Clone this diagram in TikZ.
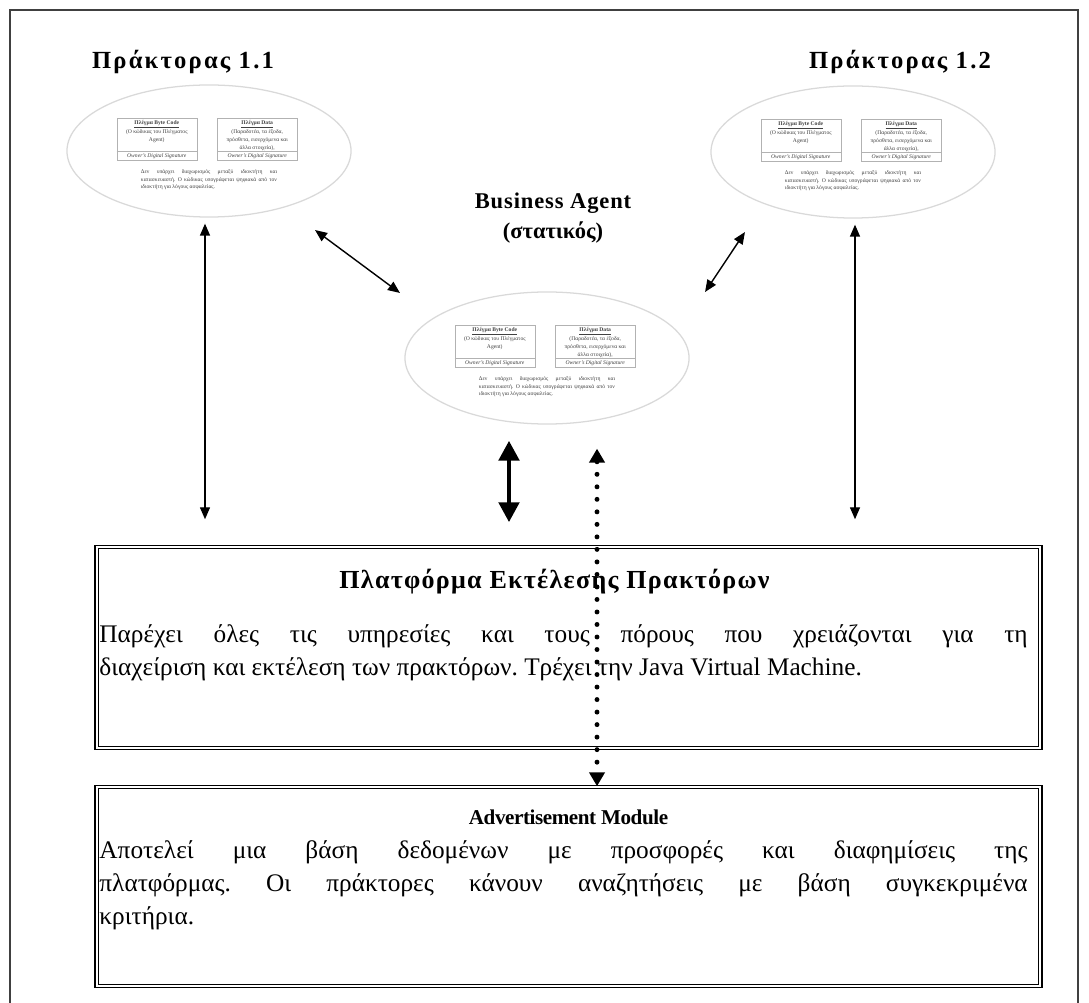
\documentclass[tikz,border=0pt]{standalone}
\usepackage{fontspec}
\setmainfont{Liberation Serif}
\frenchspacing
\usetikzlibrary{positioning, arrows.meta, shapes.geometric}
\tikzset{
	agentoval/.style={ellipse, draw=gray!30, line width=0.9pt, minimum width=7.1cm, minimum height=3.3cm}
}
\tikzset{
	minibox/.style={draw=gray!60, line width=0.3pt, minimum width=2cm, minimum height=1.05cm, inner sep=0pt}
}
\tikzset{
	minitext/.style={font=\fontsize{4}{5.4}\selectfont, text=black!75, align=center, inner sep=0.5pt}
}
\tikzset{
	headtext/.style={font=\fontsize{16}{21}\selectfont\bfseries, align=center}
}
\tikzset{
	dblbox/.style={draw, double, double distance=1.4pt, line width=1pt, minimum width=23.575cm, inner sep=0pt}
}
\tikzset{
	boxtitle/.style={font=\fontsize{18.5}{20}\selectfont\bfseries, inner sep=0pt}
}
\tikzset{
	boxtext/.style={font=\fontsize{18}{23.5}\selectfont, text width=23.2cm, align=justify, inner sep=0pt}
}
\tikzset{
	twoway/.style={{Triangle[length=0.3cm,width=0.25cm]}-{Triangle[length=0.3cm,width=0.25cm]}, line width=1pt}
}
\tikzset{
	bigway/.style={{Triangle[length=0.5cm,width=0.5cm]}-{Triangle[length=0.5cm,width=0.5cm]}, line width=3.5pt}
}
\tikzset{
	dotway/.style={{Triangle[length=0.35cm,width=0.38cm]}-{Triangle[length=0.35cm,width=0.38cm]}, line width=3.5pt, line cap=round, dash pattern=on 0pt off 8.9pt}
}
\newcommand{\agentinside}[1]{%
  \node[minibox, anchor=north east] (#1-code) at ([xshift=-0.3cm, yshift=0.825cm]#1.center) {};
  \node[minibox, anchor=north west] (#1-data) at ([xshift=0.2cm, yshift=0.825cm]#1.center) {};
  \draw[gray!60, line width=0.3pt] ([yshift=0.225cm]#1-code.south west) -- ([yshift=0.225cm]#1-code.south east);
  \draw[gray!60, line width=0.3pt] ([yshift=0.225cm]#1-data.south west) -- ([yshift=0.225cm]#1-data.south east);
  \node[minitext, below=1pt of #1-code.north] (#1-codetxt) {\underline{\textbf{Πλέγμα Byte Code}}\\(Ο κώδικας του Πλέγματος\\Agent)};
  \node[minitext, below=1pt of #1-data.north] (#1-datatxt) {\underline{\textbf{Πλέγμα Data}}\\(Παραδοτέα, τα έξοδα,\\πρόσθετα, εισερχόμενα και\\άλλα στοιχεία),};
  \node[minitext, above=0.5pt of #1-code.south] (#1-codesig) {\itshape Owner's Digital Signature};
  \node[minitext, above=0.5pt of #1-data.south] (#1-datasig) {\itshape Owner's Digital Signature};
  \node[minitext, text width=3.4cm, align=justify] (#1-note) at ([yshift=-0.72cm]#1.center) {Δεν υπάρχει διαχωρισμός μεταξύ ιδιοκτήτη και κατασκευαστή. Ο κώδικας υπογράφεται ψηφιακά από τον ιδιοκτήτη για λόγους ασφαλείας.};
}

\begin{document}
\begin{tikzpicture}[x=0.025cm, y=-0.025cm]
  \useasboundingbox (0,0) rectangle (1089,1003);
  \draw[line width=1.5pt, black!75] (10,1003) -- (10,10) -- (1078,10) -- (1078,1003);

  % agents
  \node[headtext, font=\fontsize{17.5}{21}\selectfont\bfseries] (titleL) at (183,62) {\addfontfeature{LetterSpace=9}Πράκτορας 1.1};
  \node[headtext, font=\fontsize{17.5}{21}\selectfont\bfseries] (titleR) at (900,62) {\addfontfeature{LetterSpace=9}Πράκτορας 1.2};
  \node[headtext] (titleC) at (553,218) {\addfontfeature{LetterSpace=4}Business Agent\\(στατικός)};
  \node[agentoval] (agL) at (209,151) {};
  \node[agentoval] (agR) at (853,152) {};
  \node[agentoval] (agC) at (547,358) {};
  \agentinside{agL}
  \agentinside{agR}
  \agentinside{agC}

  % platform and module
  \node[dblbox, minimum height=5.025cm] (platform) at (568.5,647.5) {};
  \node[boxtitle] (platform-title) at ([xshift=-0.35cm, yshift=-0.875cm]platform.north) {\addfontfeature{LetterSpace=5}Πλατφόρμα Εκτέλεσης Πρακτόρων};
  \node[boxtext, anchor=north west] (platform-text) at ([xshift=0.075cm, yshift=-1.95cm]platform.north west) {\hyphenpenalty=10000 Παρέχει όλες τις υπηρεσίες και τους πόρους που χρειάζονται για τη\linebreak διαχείριση και εκτέλεση των πρακτόρων. Τρέχει την Java Virtual Machine.};
  \node[dblbox, minimum height=4.975cm] (adv) at (568.5,886.5) {};
  \node[boxtitle, font=\fontsize{15}{20}\selectfont\bfseries] (adv-title) at ([yshift=-0.775cm]adv.north) {\addfontfeature{LetterSpace=-2}Advertisement Module};
  \node[boxtext, anchor=north west] (adv-text) at ([xshift=0.075cm, yshift=-1.35cm]adv.north west) {\hyphenpenalty=10000 Αποτελεί μια βάση δεδομένων με προσφορές και διαφημίσεις της\linebreak πλατφόρμας. Οι πράκτορες κάνουν αναζητήσεις με βάση συγκεκριμένα\linebreak κριτήρια.};

  % connectors
  \draw[twoway] ([xshift=-0.1cm, yshift=-0.15cm]agL.south) -- ([xshift=-0.1cm, yshift=0.675cm]agL.south |- platform.north);
  \draw[twoway] ([xshift=0.05cm, yshift=-0.15cm]agR.south) -- ([xshift=0.05cm, yshift=0.675cm]agR.south |- platform.north);
  \draw[twoway] ([xshift=2.65cm, yshift=-1.975cm]agL.center) -- ([xshift=-3.675cm, yshift=1.625cm]agC.center);
  \draw[twoway] ([xshift=-2.7cm, yshift=-2cm]agR.center) -- ([xshift=3.95cm, yshift=1.65cm]agC.center);
  \draw[bigway] ([xshift=-0.95cm, yshift=-0.4cm]agC.south) -- ([xshift=-0.95cm, yshift=0.6cm]agC.south |- platform.north);
  \draw[dotway] ([xshift=1.25cm, yshift=-0.6cm]agC.south) -- ([xshift=1.25cm]agC.south |- adv.north);
\end{tikzpicture}
\end{document}
